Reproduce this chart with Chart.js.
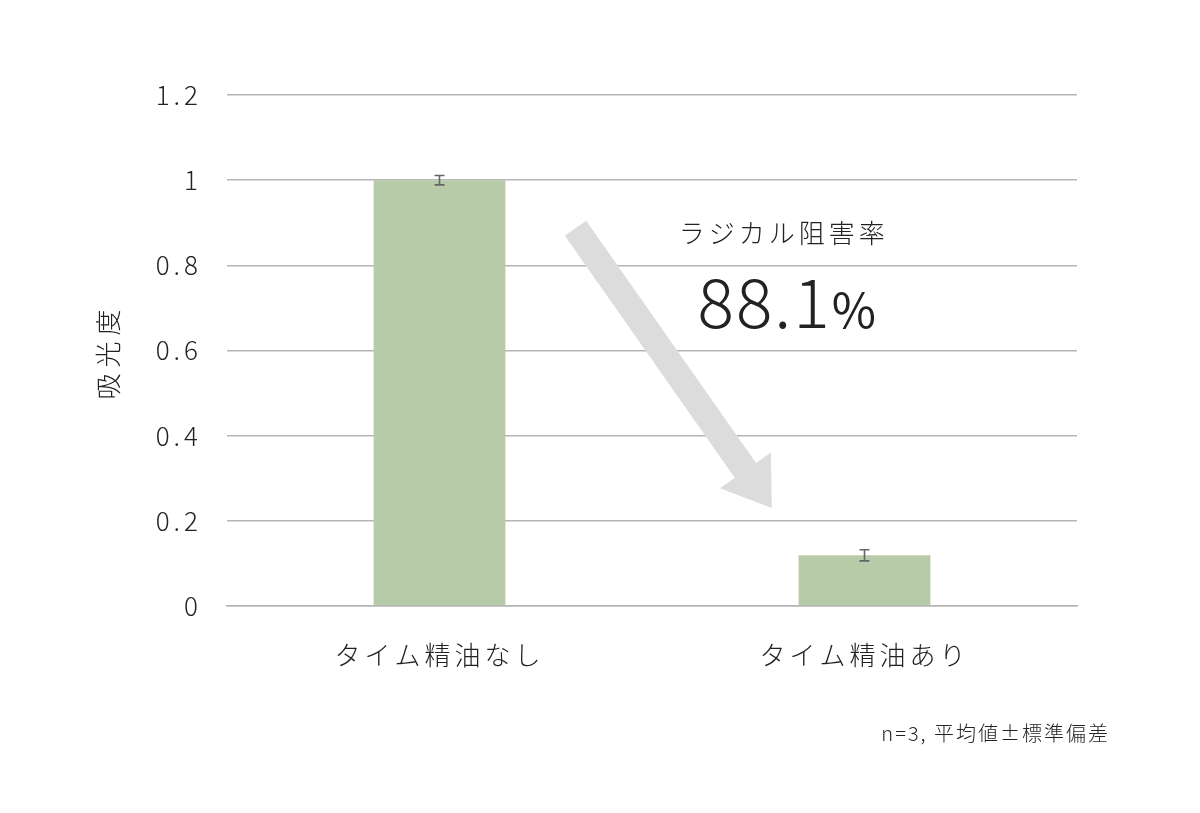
<!DOCTYPE html>
<html>
<head>
<meta charset="utf-8">
<script src="https://cdn.jsdelivr.net/npm/chart.js@4"></script>
<style>
  html, body { margin: 0; padding: 0; background: #fff; }
  #wrap { width: 1200px; height: 813px; }
</style>
</head>
<body>
<div id="wrap"><canvas id="chart"></canvas></div>
<script>
const categories = ['タイム精油なし', 'タイム精油あり'];
const absorbance = [1.0, 0.119];
const stdDev = [0.011, 0.013];
const yTicks = [0, 0.2, 0.4, 0.6, 0.8, 1, 1.2];
const inhibitionLabel = 'ラジカル阻害率';
const inhibitionValue = '88.1';
const footnote = 'n=3, 平均値±標準偏差';

const FONT = '"Noto Sans CJK JP", "Noto Sans", sans-serif';
const TEXT = '#222';

// error bars on top of each bar
const errorBars = {
  id: 'errorBars',
  afterDatasetsDraw(chart) {
    const { ctx, scales: { x, y } } = chart;
    ctx.save();
    ctx.strokeStyle = '#666';
    ctx.lineWidth = 1.6;
    absorbance.forEach((v, i) => {
      const px = x.getPixelForValue(i);
      const top = y.getPixelForValue(v + stdDev[i]);
      const bot = y.getPixelForValue(v - stdDev[i]);
      ctx.beginPath();
      ctx.moveTo(px, top); ctx.lineTo(px, bot);
      ctx.moveTo(px - 5, top); ctx.lineTo(px + 5, top);
      ctx.moveTo(px - 5, bot); ctx.lineTo(px + 5, bot);
      ctx.stroke();
    });
    ctx.restore();
  }
};

// arrow, inhibition text, axis title and footnote
const annotations = {
  id: 'annotations',
  beforeDraw(chart) {
    chart.ctx.letterSpacing = '4px';
  },
  afterDraw(chart) {
    const { ctx, scales: { x, y } } = chart;
    ctx.save();

    // arrow from the first bar down to the second
    const x0 = x.getPixelForValue(0.32), y0 = y.getPixelForValue(0.887);
    const x1 = x.getPixelForValue(0.782), y1 = y.getPixelForValue(0.230);
    const len = Math.hypot(x1 - x0, y1 - y0);
    const ux = (x1 - x0) / len, uy = (y1 - y0) / len;
    const nx = -uy, ny = ux;
    const shaft = 13, head = 31, headLen = 46;
    const bx = x1 - ux * headLen, by = y1 - uy * headLen;
    ctx.fillStyle = '#dcdcdc';
    ctx.beginPath();
    ctx.moveTo(x0 + nx * shaft, y0 + ny * shaft);
    ctx.lineTo(bx + nx * shaft, by + ny * shaft);
    ctx.lineTo(bx + nx * head, by + ny * head);
    ctx.lineTo(x1, y1);
    ctx.lineTo(bx - nx * head, by - ny * head);
    ctx.lineTo(bx - nx * shaft, by - ny * shaft);
    ctx.lineTo(x0 - nx * shaft, y0 - ny * shaft);
    ctx.closePath();
    ctx.fill();

    const cx = x.getPixelForValue(0.81);
    ctx.fillStyle = TEXT;
    ctx.textBaseline = 'alphabetic';
    ctx.textAlign = 'center';
    ctx.letterSpacing = '4px';
    ctx.font = `300 26px ${FONT}`;
    ctx.fillText(inhibitionLabel, cx, y.getPixelForValue(0.853));

    // big percentage, with a smaller % sign
    ctx.letterSpacing = '2px';
    ctx.font = `300 68px ${FONT}`;
    const w1 = ctx.measureText(inhibitionValue).width;
    ctx.font = `400 48px ${FONT}`;
    const w2 = ctx.measureText('%').width;
    const left = cx - (w1 + w2) / 2 + 4;
    const base = y.getPixelForValue(0.653);
    ctx.textAlign = 'left';
    ctx.font = `300 68px ${FONT}`;
    ctx.fillText(inhibitionValue, left, base);
    ctx.font = `400 48px ${FONT}`;
    ctx.fillText('%', left + w1, base);

    // y axis title, rotated
    ctx.letterSpacing = '6px';
    ctx.font = `300 26px ${FONT}`;
    ctx.translate(108, (chart.chartArea.top + chart.chartArea.bottom) / 2 + 1);
    ctx.rotate(-Math.PI / 2);
    ctx.textAlign = 'center';
    ctx.textBaseline = 'middle';
    ctx.fillText('吸光度', 0, 0);
    ctx.setTransform(1, 0, 0, 1, 0, 0);
    ctx.restore();

    ctx.save();
    ctx.fillStyle = TEXT;
    ctx.letterSpacing = '2px';
    ctx.font = `300 20px ${FONT}`;
    ctx.textAlign = 'right';
    ctx.textBaseline = 'alphabetic';
    ctx.fillText(footnote, 1110, 741);
    ctx.restore();
  }
};

const ctx = document.getElementById('chart');
new Chart(ctx, {
  type: 'bar',
  data: {
    labels: categories,
    datasets: [{
      data: absorbance,
      backgroundColor: '#b8cba8',
      barPercentage: 1,
      categoryPercentage: 0.31
    }]
  },
  options: {
    responsive: true,
    maintainAspectRatio: false,
    animation: false,
    layout: { padding: { top: 95, right: 123, bottom: 127, left: 0 } },
    plugins: { legend: { display: false }, tooltip: { enabled: false } },
    scales: {
      x: {
        grid: { display: false },
        border: { color: '#b5b5b5', width: 1.5 },
        ticks: { color: TEXT, font: { family: FONT, size: 26, weight: 300 }, padding: 26 },
        afterFit: (s) => { s.height = 80; }
      },
      y: {
        min: 0,
        max: 1.2,
        afterBuildTicks: (s) => { s.ticks = yTicks.map(v => ({ value: v })); },
        grid: { color: '#b5b5b5', lineWidth: 1.5, drawTicks: false },
        border: { display: false },
        ticks: {
          color: TEXT,
          font: { family: FONT, size: 26, weight: 300 },
          padding: 25,
          callback: (v) => String(v)
        },
        afterFit: (s) => { s.width = 227; }
      }
    }
  },
  plugins: [errorBars, annotations]
});
</script>
</body>
</html>
